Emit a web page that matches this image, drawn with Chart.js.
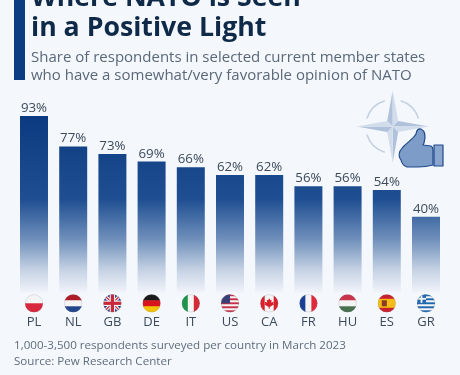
<!DOCTYPE html>
<html><head><meta charset="utf-8">
<script src="https://cdn.jsdelivr.net/npm/chart.js@4"></script>
<style>
html,body{margin:0;padding:0;background:#f4f7fc;overflow:hidden}
body{width:460px;height:375px;position:relative;font-family:"Open Sans",sans-serif}
#bar{position:absolute;left:14px;top:0;width:11px;height:80px;background:#0c3c82}
.t{position:absolute;white-space:nowrap}
.title{left:31px;font-weight:700;font-size:26.7px;line-height:30px;color:#0f2a48}
.sub{left:31px;font-size:15px;line-height:18px;color:#5a6878}
.foot{left:14px;font-size:11.6px;line-height:16px;color:#5f6d7c}
#wrap{position:absolute;left:0;top:0;width:460px;height:375px}
</style></head><body>
<div id="wrap"><canvas id="c" width="460" height="375"></canvas></div>
<div id="bar"></div>
<div class="t title" style="top:-19.3px">Where NATO is Seen</div>
<div class="t title" style="top:10.7px">in a Positive Light</div>
<div class="t sub" style="top:47.2px">Share of respondents in selected current member states</div>
<div class="t sub" style="top:65.2px">who have a somewhat/very favorable opinion of NATO</div>
<div class="t foot" style="top:336.5px">1,000-3,500 respondents surveyed per country in March 2023</div>
<div class="t foot" style="top:352.5px">Source: Pew Research Center</div>
<script>
const categories=["PL","NL","GB","DE","IT","US","CA","FR","HU","ES","GR"];
const favorable=[93,77,73,69,66,62,62,56,56,54,40];

function bands(ctx,x,y,r,cols,vertical){
  const n=cols.length;
  cols.forEach((c,i)=>{ctx.fillStyle=c;
    if(vertical)ctx.fillRect(x-r+2*r*i/n,y-r,2*r/n+.5,2*r);
    else ctx.fillRect(x-r,y-r+2*r*i/n,2*r,2*r/n+.5);});
}
const flags={
 PL(c,x,y,r){bands(c,x,y,r,["#f4f4f4","#d8263c"]);},
 NL(c,x,y,r){bands(c,x,y,r,["#ae1c28","#f4f4f4","#21468b"]);},
 DE(c,x,y,r){bands(c,x,y,r,["#1a1a1a","#d8141c","#f6c400"]);},
 IT(c,x,y,r){bands(c,x,y,r,["#1f9448","#f4f4f4","#d32a36"],true);},
 FR(c,x,y,r){bands(c,x,y,r,["#1b3f94","#f4f4f4","#e0283a"],true);},
 HU(c,x,y,r){bands(c,x,y,r,["#c8344a","#f4f4f4","#47704f"]);},
 ES(c,x,y,r){bands(c,x,y,r,["#c8202c","#f6bd16","#f6bd16","#c8202c"]);
   c.fillStyle="#8a3a20";c.fillRect(x-5,y-3,5,6);},
 CA(c,x,y,r){bands(c,x,y,r,["#d8202c","#f4f4f4","#f4f4f4","#d8202c"],true);
   c.fillStyle="#d8202c";c.beginPath();
   [[0,-5],[1.2,-3],[2.5,-3.5],[2,-.8],[4.5,-1.5],[4,.2],[5,1],[1,3.5],[.5,3.5],[.5,5.5],[-.5,5.5],[-.5,3.5],[-1,3.5],[-5,1],[-4,.2],[-4.5,-1.5],[-2,-.8],[-2.5,-3.5],[-1.2,-3]]
   .forEach((p,i)=>i?c.lineTo(x+p[0],y+p[1]):c.moveTo(x+p[0],y+p[1]));c.fill();},
 US(c,x,y,r){for(let i=0;i<9;i++){c.fillStyle=i%2?"#f4f4f4":"#c8304a";c.fillRect(x-r,y-r+2*r*i/9,2*r,2*r/9+.5);}
   c.fillStyle="#3a3f78";c.fillRect(x-r,y-r,r,r);},
 GR(c,x,y,r){for(let i=0;i<9;i++){c.fillStyle=i%2?"#f4f4f4":"#1f68b0";c.fillRect(x-r,y-r+2*r*i/9,2*r,2*r/9+.5);}
   c.fillStyle="#1f68b0";c.fillRect(x-r,y-r,r,r*.95);c.fillStyle="#f4f4f4";c.fillRect(x-r,y-r*.6,r,r*.2);c.fillRect(x-r*.6,y-r,r*.2,r*.95);},
 GB(c,x,y,r){c.fillStyle="#2a3f80";c.fillRect(x-r,y-r,2*r,2*r);
   c.lineCap="butt";
   const cross=(col,w)=>{c.strokeStyle=col;c.lineWidth=w;c.beginPath();c.moveTo(x-r,y-r);c.lineTo(x+r,y+r);c.moveTo(x+r,y-r);c.lineTo(x-r,y+r);c.stroke();};
   cross("#f4f4f4",3.4);cross("#c8283c",1.2);
   c.fillStyle="#f4f4f4";c.fillRect(x-2.7,y-r,5.4,2*r);c.fillRect(x-r,y-2.7,2*r,5.4);
   c.fillStyle="#c8283c";c.fillRect(x-1.6,y-r,3.2,2*r);c.fillRect(x-r,y-1.6,2*r,3.2);}
};
const flagPlugin={id:"flags",afterDraw(chart){
  const c=chart.ctx,sx=chart.scales.x,y=303.3,r=9;
  categories.forEach((k,i)=>{const x=sx.getPixelForValue(i);
    c.save();c.beginPath();c.arc(x,y,r,0,Math.PI*2);c.clip();flags[k](c,x,y,r);c.restore();
    c.beginPath();c.arc(x,y,r-.3,0,Math.PI*2);c.strokeStyle="rgba(120,130,145,.35)";c.lineWidth=.6;c.stroke();});
}};
const logoPlugin={id:"logo",afterDraw(chart){
  const c=chart.ctx,cx=392.7,cy=126.5;
  c.save();
  c.strokeStyle="#c4d1e3";c.lineWidth=1.6;
  for(let q=0;q<4;q++){const a=q*Math.PI/2;c.beginPath();c.arc(cx,cy,27,a+.3,a+Math.PI/2-.3);c.stroke();}
  [0,1,2,3].forEach(i=>{
    const rot=(i*Math.PI)/2;const f=(dx,dy)=>[cx+dx*Math.cos(rot)-dy*Math.sin(rot),cy+dx*Math.sin(rot)+dy*Math.cos(rot)];
    c.fillStyle="#b0c1da";c.beginPath();let a=f(0,0),b=f(0,-36),d=f(-5.5,-5.5);c.moveTo(...a);c.lineTo(...b);c.lineTo(...d);c.fill();
    c.fillStyle="#d2ddec";c.beginPath();d=f(5.5,-5.5);c.moveTo(...a);c.lineTo(...b);c.lineTo(...d);c.fill();
  });
  c.fillStyle="#7e9cc8";c.strokeStyle="#1f4a8c";c.lineWidth=1.2;c.lineJoin="round";
  c.beginPath();c.moveTo(403,147);c.bezierCurveTo(409,141,413,139,416,134);c.quadraticCurveTo(417,128,421,129);
  c.quadraticCurveTo(427,132,424,143);c.lineTo(423,145);c.lineTo(431,146);c.quadraticCurveTo(433,147,433,150);
  c.lineTo(433,165);c.quadraticCurveTo(426,167,418,167);c.lineTo(407,167);c.quadraticCurveTo(402,165,401,160);
  c.quadraticCurveTo(398,156,400,151);c.closePath();c.fill();c.stroke();
  c.fillStyle="#8aa6cf";c.beginPath();c.rect(434,145,9,21);c.fill();c.stroke();
  c.restore();
}};
new Chart(document.getElementById("c"),{
  type:"bar",
  data:{labels:categories,datasets:[{data:favorable,borderWidth:0,barPercentage:.714,categoryPercentage:1,
    backgroundColor(ctx){
      const ca=ctx.chart.chartArea;if(!ca)return "#0c3c82";
      const g=ctx.chart.ctx.createLinearGradient(0,ca.top,0,ca.bottom);
      g.addColorStop(0,"#0c3a80");g.addColorStop(.07,"#0c3a80");g.addColorStop(.51,"#1f4f92");g.addColorStop(.72,"#7090bb");g.addColorStop(.88,"#c5d2e4");g.addColorStop(1,"#f1f4fa");
      return g;
    }}]},
  options:{responsive:false,animation:false,
    layout:{padding:{left:14.4,right:14.4,top:102.7,bottom:40}},
    plugins:{legend:{display:false},tooltip:{enabled:false}},
    scales:{
      y:{display:false,min:0,max:100},
      x:{grid:{display:false},border:{display:false},
        afterFit(s){s.height=42.3;},
        ticks:{color:"#3c4a5a",font:{family:"Open Sans",size:13},padding:14,maxRotation:0,autoSkip:false}}
    }},
  plugins:[{id:"vals",afterDatasetsDraw(chart){
    const c=chart.ctx,m=chart.getDatasetMeta(0);
    c.save();c.font='13.3px "Open Sans"';c.fillStyle="#3c4a5a";c.textAlign="center";c.textBaseline="alphabetic";
    m.data.forEach((b,i)=>c.fillText(favorable[i]+"%",b.x,b.y-4));c.restore();
  }},flagPlugin,logoPlugin]
});
</script>
</body></html>
